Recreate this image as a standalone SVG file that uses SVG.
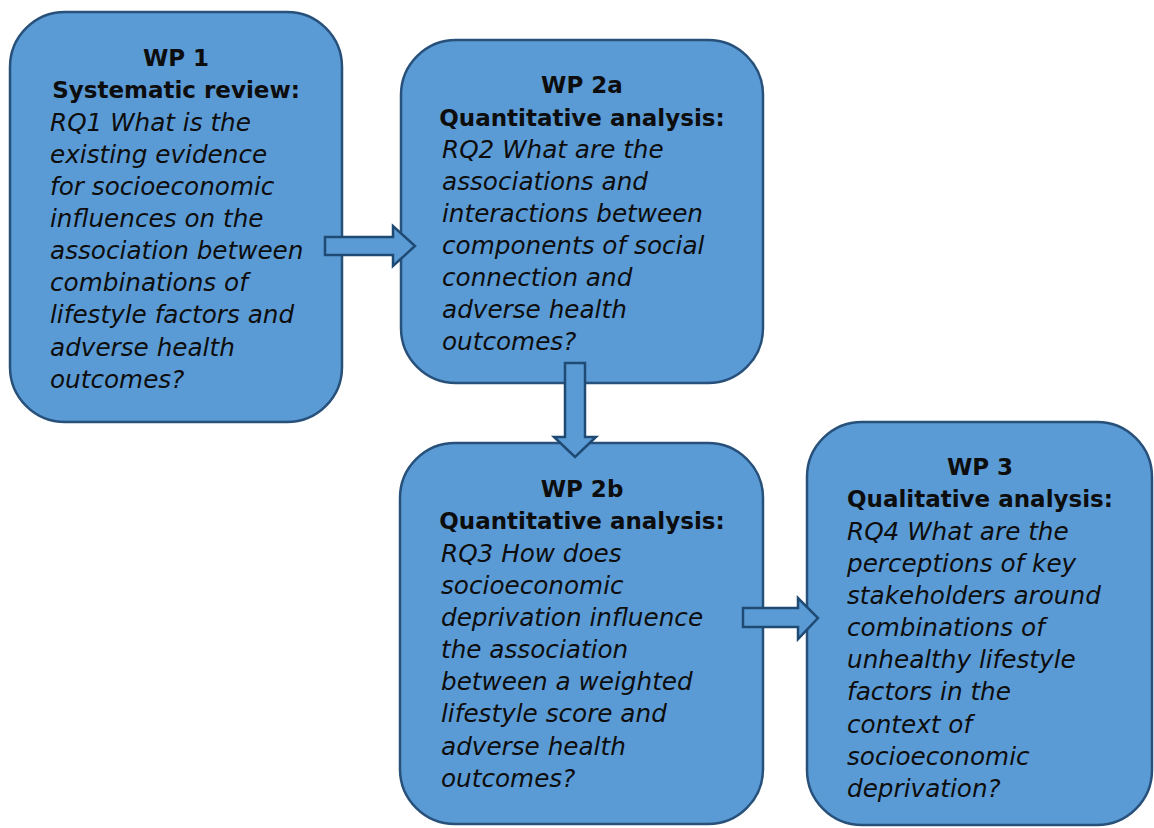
<svg xmlns="http://www.w3.org/2000/svg" width="1154" height="828" viewBox="0 0 1154 828">
  <style>
    .box { fill: #5b9bd5; stroke: #27507a; stroke-width: 2.5; }
    .arrow { fill: #5b9bd5; stroke: #1f4a73; stroke-width: 2.5; stroke-linejoin: miter; }
    .title { font-family: "DejaVu Sans", Verdana, sans-serif; font-weight: bold; font-size: 23px; fill: #0d0d0d; text-anchor: middle; }
    .body { font-family: "DejaVu Sans", Verdana, sans-serif; font-style: italic; font-size: 24.7px; fill: #0d0d0d; }
  </style>
  <rect width="1154" height="828" fill="#ffffff"/>

  <!-- WP 1 -->
  <g id="wp1">
    <rect class="box" x="10" y="12" width="332" height="410" rx="55" ry="55"/>
    <text class="title" x="176" y="66">WP 1</text>
    <text class="title" x="176" y="98">Systematic review:</text>
    <text class="body">
      <tspan x="50" y="131">RQ1 What is the</tspan>
      <tspan x="50" y="163">existing evidence</tspan>
      <tspan x="50" y="195">for socioeconomic</tspan>
      <tspan x="50" y="227">influences on the</tspan>
      <tspan x="50" y="259">association between</tspan>
      <tspan x="50" y="291">combinations of</tspan>
      <tspan x="50" y="323">lifestyle factors and</tspan>
      <tspan x="50" y="356">adverse health</tspan>
      <tspan x="50" y="388">outcomes?</tspan>
    </text>
  </g>

  <!-- WP 2a -->
  <g id="wp2a">
    <rect class="box" x="401" y="40" width="362" height="343" rx="55" ry="55"/>
    <text class="title" x="582" y="93">WP 2a</text>
    <text class="title" x="582" y="126">Quantitative analysis:</text>
    <text class="body">
      <tspan x="442" y="158">RQ2 What are the</tspan>
      <tspan x="442" y="190">associations and</tspan>
      <tspan x="442" y="222">interactions between</tspan>
      <tspan x="442" y="254">components of social</tspan>
      <tspan x="442" y="286">connection and</tspan>
      <tspan x="442" y="318">adverse health</tspan>
      <tspan x="442" y="350">outcomes?</tspan>
    </text>
  </g>

  <!-- WP 2b -->
  <g id="wp2b">
    <rect class="box" x="400" y="443" width="363" height="381" rx="55" ry="55"/>
    <text class="title" x="582" y="497">WP 2b</text>
    <text class="title" x="582" y="529">Quantitative analysis:</text>
    <text class="body">
      <tspan x="441" y="562">RQ3 How does</tspan>
      <tspan x="441" y="594">socioeconomic</tspan>
      <tspan x="441" y="626">deprivation influence</tspan>
      <tspan x="441" y="658">the association</tspan>
      <tspan x="441" y="690">between a weighted</tspan>
      <tspan x="441" y="722">lifestyle score and</tspan>
      <tspan x="441" y="755">adverse health</tspan>
      <tspan x="441" y="787">outcomes?</tspan>
    </text>
  </g>

  <!-- WP 3 -->
  <g id="wp3">
    <rect class="box" x="807" y="422" width="345" height="403" rx="55" ry="55"/>
    <text class="title" x="980" y="475">WP 3</text>
    <text class="title" x="980" y="507">Qualitative analysis:</text>
    <text class="body">
      <tspan x="847" y="540">RQ4 What are the</tspan>
      <tspan x="847" y="572">perceptions of key</tspan>
      <tspan x="847" y="604">stakeholders around</tspan>
      <tspan x="847" y="636">combinations of</tspan>
      <tspan x="847" y="668">unhealthy lifestyle</tspan>
      <tspan x="847" y="700">factors in the</tspan>
      <tspan x="847" y="733">context of</tspan>
      <tspan x="847" y="765">socioeconomic</tspan>
      <tspan x="847" y="797">deprivation?</tspan>
    </text>
  </g>

  <!-- block arrows between work packages -->
  <g id="connectors">
    <polygon class="arrow" points="325,237 393,237 393,226 415,246 393,266 393,255 325,255"/>
    <polygon class="arrow" points="565,363 585,363 585,437 596,437 575,457 554,437 565,437"/>
    <polygon class="arrow" points="743,608 798,608 798,598 818,618 798,639 798,627 743,627"/>
  </g>
</svg>
